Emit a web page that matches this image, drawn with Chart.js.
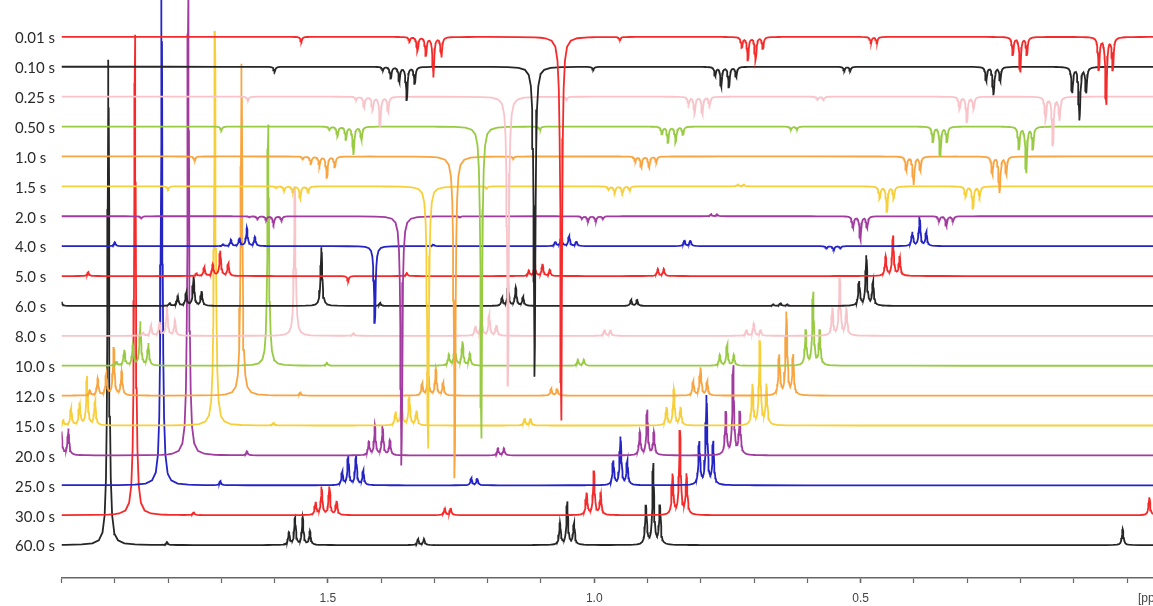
<!DOCTYPE html>
<html>
<head>
<meta charset="utf-8">
<script src="https://cdn.jsdelivr.net/npm/chart.js@4.4.1/dist/chart.umd.min.js"></script>
<style>
html,body{margin:0;padding:0;background:#ffffff;}
#wrap{width:1153px;height:606px;position:relative;}
</style>
</head>
<body>
<div id="wrap"><canvas id="c" width="1153" height="606"></canvas></div>
<script>
// ---------- data ----------
// recovery delays, top trace first
const delayLabels = ['0.01 s','0.10 s','0.25 s','0.50 s','1.0 s','1.5 s','2.0 s','4.0 s','5.0 s','6.0 s','8.0 s','10.0 s','12.0 s','15.0 s','20.0 s','25.0 s','30.0 s','60.0 s'];
const traceColors = ['#f52a2a','#262626','#f8c4c9','#98cb42','#f8a541','#f7cf3a','#a23ba0','#2424c4',
                     '#f52a2a','#262626','#f8c4c9','#98cb42','#f8a541','#f7cf3a','#a23ba0','#2424c4',
                     '#f52a2a','#262626'];
const stackShiftPpm = 0.05;   // horizontal offset between stacked traces (ppm)
const traceSpacing = 30;      // vertical offset between stacked traces (intensity units)
const lineHalfWidth = 0.0018; // Lorentzian half width (ppm)

// x axis
const tickValues = [0.0,0.1,0.2,0.3,0.4,0.5,0.6,0.7,0.8,0.9,1.0,1.1,1.2,1.3,1.4,1.5,1.6,1.7,1.8,1.9,2.0];
const tickLabels = {'1.5':'1.5','1.0':'1.0','0.5':'0.5'};
const unitLabel = '[ppm]';
const xLeft = 2.0, xRight = -0.0488;

// peak groups: shifts (ppm, 60 s frame), relative line heights, amplitude per trace (top trace first)
const m0Shifts = [2.197, 2.182, 2.166, 2.152, 2.137];
const m0Rel    = [0.1, 0.35, 0.45, 1.0, 0.5];
const m0Amp    = [-40,-33,-30,-28,-21,-12,-8,18,25,29,30,44,48,49,52,52,52,52];

const g0Shifts = [2.400];
const g0Rel    = [1.0];
const g0Amp    = [-5,-5,-4,-4,-4,-3,-2,4,4,4,4,4,4,4,4,4,4,4];

const s1Shifts = [1.912];
const s1Rel    = [1.0];
const s1Amp    = [-385,-311,-290,-313,-323,-263,-250,-77,-5,59,150,242,333,396,470,495,482,487];

const g1Shifts = [1.802];
const g1Rel    = [1.0];
const g1Amp    = [-3,-3,-3,-3,-2,-2,-1,2,3,3,3,3,3,3,4,4,3,3];

const m1Shifts = [1.5730, 1.5617, 1.5472, 1.5336];
const m1Rel    = [0.45, 1.0, 1.0, 0.5];
const m1Amp    = [-23,-20,-17,-16,-11,-7,-5,10,12,18,21,24,26,29,29,29,28,27];

const d1Shifts = [1.3308, 1.3196];
const d1Rel    = [1.0, 1.0];
const d1Amp    = [-6,-4,-3,-3,0,2,2,6,7,6,6,6,7,7,7,7,7,6];

const t1Shifts = [1.0643, 1.0506, 1.0380];
const t1Rel    = [0.5, 1.0, 0.5];
const t1Amp    = [-35,-28,-25,-30,-28,-25,-23,-4,0,3,12,21,28,36,45,48,44,43];

const t2Shifts = [0.9029, 0.8892, 0.8767];
const t2Rel    = [0.48, 1.0, 0.48];
const t2Amp    = [-67,-53,-48,-46,-36,-22,-10,29,40,50,57,73,83,84,89,89,84,81];

const tmsShifts = [0.008];
const tmsRel    = [1.0];
const tmsAmp    = [17,17,17,17,17,17,17,17,17,17,17,17,17,17,17,17,18,16];

// ---------- build the line data from the peak tables ----------
const groups = [
  [m0Shifts,m0Rel,m0Amp],[g0Shifts,g0Rel,g0Amp],[s1Shifts,s1Rel,s1Amp],[g1Shifts,g1Rel,g1Amp],
  [m1Shifts,m1Rel,m1Amp],[d1Shifts,d1Rel,d1Amp],[t1Shifts,t1Rel,t1Amp],[t2Shifts,t2Rel,t2Amp],
  [tmsShifts,tmsRel,tmsAmp]
];
const sampleOffsets = [0,0.0006,0.0012,0.002,0.003,0.0045,0.007,0.011,0.018,0.03,0.05,0.08];
const nTraces = delayLabels.length;

function buildTrace(i){
  const j = nTraces - 1 - i;          // stack level from bottom
  const base = j * traceSpacing;
  const shift = j * stackShiftPpm;
  const lines = [];
  groups.forEach(([sh, rel, amp]) => {
    sh.forEach((s, k) => lines.push({pos: s - shift, h: amp[i] * rel[k]}));
  });
  const xs = new Set([xRight - 0.01, xLeft + 0.01]);
  for (let v = 0; v <= 20; v++) xs.add(+(v * 0.1).toFixed(2));
  lines.forEach(l => {
    if (l.pos < xRight - 0.1 || l.pos > xLeft + 0.1) return;
    sampleOffsets.forEach(o => { xs.add(l.pos + o); xs.add(l.pos - o); });
  });
  const arr = [...xs].filter(x => x >= xRight - 0.01 && x <= xLeft + 0.01).sort((a,b)=>a-b);
  return arr.map(x => {
    let y = base;
    lines.forEach(l => { const d = (x - l.pos) / lineHalfWidth; y += l.h / (1 + d*d); });
    return {x, y};
  });
}

const datasets = delayLabels.map((lab, i) => ({
  label: lab,
  data: buildTrace(i),
  borderColor: traceColors[i],
  borderWidth: 1.8,
  pointRadius: 0,
  fill: false,
  tension: 0,
  parsing: false,
  normalized: true
}));

const delayLabelPlugin = {
  id: 'delayLabels',
  afterDraw(chart){
    const ys = chart.scales.y, c = chart.ctx;
    c.save();
    c.font = '15px Lato, "Open Sans", sans-serif';
    c.fillStyle = '#2a2a2a';
    c.textAlign = 'left';
    c.textBaseline = 'middle';
    delayLabels.forEach((lab, i) => {
      const j = nTraces - 1 - i;
      c.fillText(lab, 15, ys.getPixelForValue(j * traceSpacing) + 1.5);
    });
    c.restore();
  }
};

new Chart(document.getElementById('c').getContext('2d'), {
  type: 'line',
  data: { datasets },
  options: {
    responsive: false,
    animation: false,
    devicePixelRatio: 1,
    events: [],
    layout: { padding: { left: 61.5, right: 0, top: 0, bottom: 0 } },
    plugins: { legend: { display: false }, tooltip: { enabled: false } },
    scales: {
      x: {
        type: 'linear', reverse: true, min: xRight, max: xLeft,
        afterBuildTicks: s => { s.ticks = [xRight].concat(tickValues).map(v => ({value: v})); },
        afterFit: s => { s.height = 28; },
        ticks: {
          autoSkip: false, maxRotation: 0, padding: 8,
          color: '#444',
          font: { size: 12, family: '"Liberation Sans", Arial, sans-serif' },
          callback: v => v === xRight ? unitLabel : (tickLabels[v.toFixed(1)] || '')
        },
        grid: {
          drawOnChartArea: false, drawTicks: true, tickLength: 5,
          tickColor: ctx => (ctx.tick && ctx.tick.value === xRight) ? 'rgba(0,0,0,0)' : '#666',
          tickWidth: ctx => (ctx.tick && tickLabels[ctx.tick.value.toFixed(1)]) ? 1.6 : 1.2
        },
        border: { display: true, color: '#666', width: 1.5 }
      },
      y: { type: 'linear', display: false, min: -33, max: 547 }
    }
  },
  plugins: [delayLabelPlugin]
});
</script>
</body>
</html>
